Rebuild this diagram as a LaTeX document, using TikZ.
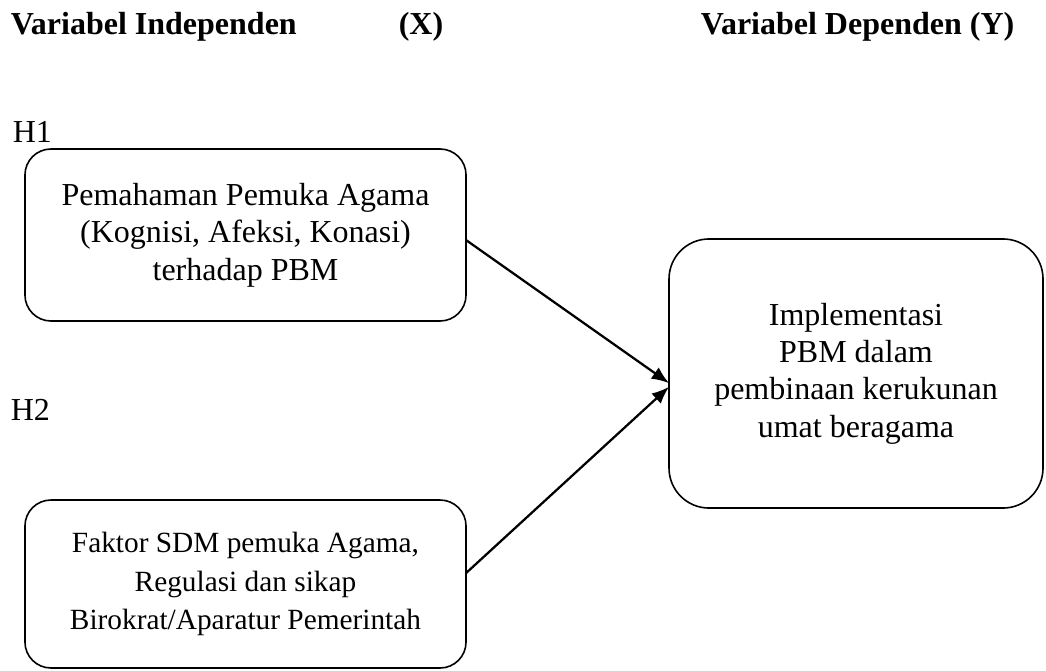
\documentclass[tikz,border=0pt]{standalone}
\usepackage{fontspec}
\setmainfont{Liberation Serif}
\usetikzlibrary{arrows.meta}

\tikzset{
	judul/.style={font=\bfseries\fontsize{12}{14}\selectfont,anchor=base west,inner sep=0pt},
	hipotesis/.style={font=\fontsize{12}{14}\selectfont,anchor=base west,inner sep=0pt},
	varbox/.style={draw=black,rounded corners=9.75pt,minimum width=165.4pt,align=center,inner sep=0pt,outer sep=0pt},
	panah/.style={->,line width=0.85pt},
}

\begin{document}
\begin{tikzpicture}[>={Latex[length=6.5pt,width=5.2pt]},semithick,x=0.375pt,y=-0.375pt]
	\useasboundingbox (0,0) rectangle (1046,670);

	\node [judul] at (10,35) (indep) {Variabel Independen};
	\node [judul] at (398,35) (varx) {(X)};
	\node [judul] at (700,35) (dep) {Variabel Dependen (Y)};

	\node [hipotesis] at (12,143) (h1) {H1};
	\node [hipotesis] at (10,420) (h2) {H2};

	\node [varbox,minimum height=64.5pt,font=\fontsize{12}{14}\selectfont] at (245.5,235) (pemahaman) {Pemahaman Pemuka Agama\\(Kognisi, Afeksi, Konasi)\\terhadap PBM};
	\node [varbox,minimum height=63pt,font=\fontsize{11}{14.4}\selectfont] at (245.5,584) (faktor) {Faktor SDM pemuka Agama,\\Regulasi dan sikap\\Birokrat/Aparatur Pemerintah};
	\node [varbox,rounded corners=15pt,minimum width=140.25pt,minimum height=100.9pt,font=\fontsize{12}{14}\selectfont] at (856,373.5) (implementasi) {Implementasi\\PBM dalam\\pembinaan kerukunan\\umat beragama};

	\draw[panah] ([yshift=-1.9pt]pemahaman.east) -- ([yshift=-3.6pt]implementasi.west);
	\draw[panah] ([yshift=4.1pt]faktor.east) -- ([yshift=-5pt]implementasi.west);
\end{tikzpicture}
\end{document}
